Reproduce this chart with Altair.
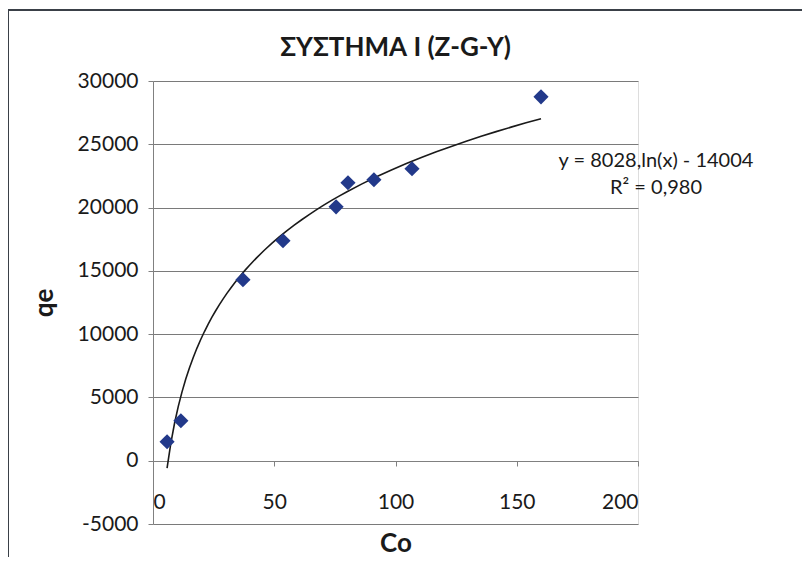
import altair as alt
import pandas as pd

co = [5.8, 11.5, 37.1, 53.6, 75.5, 80.4, 91.1, 106.8, 160.0]
qe = [1500, 3160, 14300, 17380, 20060, 21960, 22200, 23070, 28750]
eq_text = "y = 8028,ln(x) - 14004\nR² = 0,980"
title_text = "ΣΥΣΤΗΜΑ Ι (Z-G-Y)"
y_ticks = [-5000, 0, 5000, 10000, 15000, 20000, 25000, 30000]
x_ticks = [0, 50, 100, 150, 200]

df = pd.DataFrame({"Co": co, "qe": qe})
W, H = 485, 443
PL, PT, PR, PB = 145, 73, 164, 33
FONT = "Lato, Open Sans, sans-serif"
TXT = "#1a1a1a"

xs = alt.Scale(domain=[0, 200], nice=False, zero=False)
ys = alt.Scale(domain=[-5000, 30000], nice=False, zero=False)

X = alt.X("Co:Q", scale=xs,
          axis=alt.Axis(values=x_ticks, grid=False, offset=-63, tickSize=5, tickColor="#808080",
                        domainColor="#808080", labelPadding=25, labelFontSize=21, labelColor=TXT,
                        labelFont=FONT, title="Co", titleFont=FONT, titleFontSize=26,
                        titleFontWeight="bold", titleColor=TXT, titlePadding=18,
                        labelExpr="datum.value + ''"))
Y = alt.Y("qe:Q", scale=ys,
          axis=alt.Axis(values=y_ticks, grid=True, gridColor="#7a7a7a", gridWidth=1,
                        tickSize=5, tickColor="#808080", domainColor="#808080",
                        labelPadding=10, labelFontSize=21, labelColor=TXT, labelFont=FONT,
                        title="qe", titleFont=FONT, titleFontSize=26, titleFontWeight="bold",
                        titleColor=TXT, titlePadding=20, labelExpr="datum.value + ''"))

base = alt.Chart(df)

trend = base.transform_regression("Co", "qe", method="log", extent=[min(co), max(co)]).mark_line(
    color="#1a1a1a", strokeWidth=1.6
).encode(x=X, y=Y)

points = base.mark_point(shape="diamond", filled=True, size=230, color="#22398A", opacity=1).encode(
    x=X, y=Y
)

eq = alt.Chart(pd.DataFrame({"t": [eq_text]})).mark_text(
    align="center", baseline="middle", fontSize=20, font=FONT, color=TXT, lineBreak="\n", lineHeight=27
).encode(text="t:N", x=alt.value(503), y=alt.value(80))

title = alt.Chart(pd.DataFrame({"t": [title_text]})).mark_text(
    align="center", baseline="middle", fontSize=26, fontWeight="bold", font=FONT, color=TXT
).encode(text="t:N", x=alt.value(W / 2), y=alt.value(-33))

border_top = alt.Chart(pd.DataFrame({"a": [0]})).mark_rule(color="#3a4048", strokeWidth=2).encode(
    x=alt.value(-PL), x2=alt.value(W + PR), y=alt.value(-PT + 2)
)
border_left = alt.Chart(pd.DataFrame({"a": [0]})).mark_rule(color="#3a4048", strokeWidth=2).encode(
    x=alt.value(-PL), y=alt.value(-PT + 2), y2=alt.value(H + PB)
)

chart = alt.layer(trend, points, eq, title, border_top, border_left).properties(
    width=W, height=H,
    autosize=alt.AutoSizeParams(type="none"),
    padding={"left": PL, "top": PT, "right": PR, "bottom": PB},
).configure_view(stroke=None).configure(background="white")

chart.save("out.html", embed_options={"renderer": "svg", "actions": False})
